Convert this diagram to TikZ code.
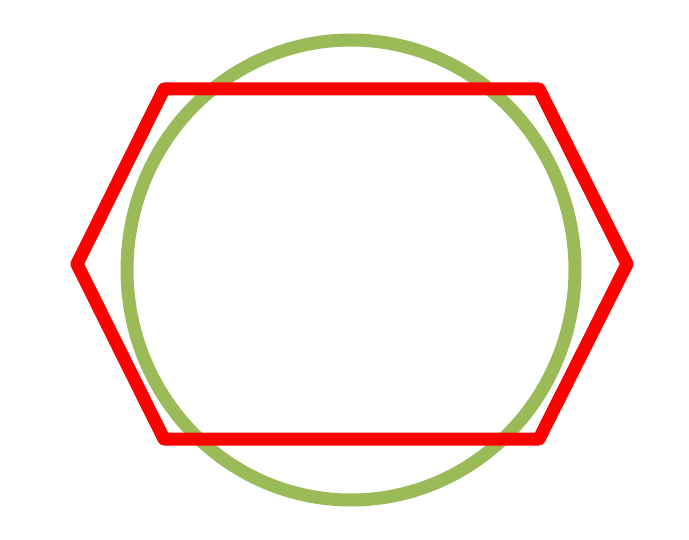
\documentclass[tikz,border=0pt]{standalone}
\usepackage{xcolor}
\usetikzlibrary{calc}
\definecolor{olivegrn}{HTML}{9BBB59}
\definecolor{hexred}{HTML}{FF0000}
\tikzset{
  ringln/.style={draw=olivegrn,line width=0.26cm},
  hexln/.style={draw=hexred,line width=0.26cm,line join=round}
}
\begin{document}
\begin{tikzpicture}[x=0.02cm,y=-0.02cm]
  \useasboundingbox (0,0) rectangle (689,540);
  % Green ring
  \coordinate (ctr) at (351,270);
  \draw[ringln] (ctr) ellipse [x radius=224, y radius=230];

  % Hexagon corners
  \coordinate (h1) at (164,89);
  \coordinate (h2) at (539,89);
  \coordinate (h3) at (627,264);
  \coordinate (h4) at (539,439);
  \coordinate (h5) at (164,439);
  \coordinate (h6) at (77,264);

  % Red hexagon
  \draw[hexln] (h1) -- (h2) -- (h3) -- (h4) -- (h5) -- (h6) -- cycle;
\end{tikzpicture}
\end{document}
